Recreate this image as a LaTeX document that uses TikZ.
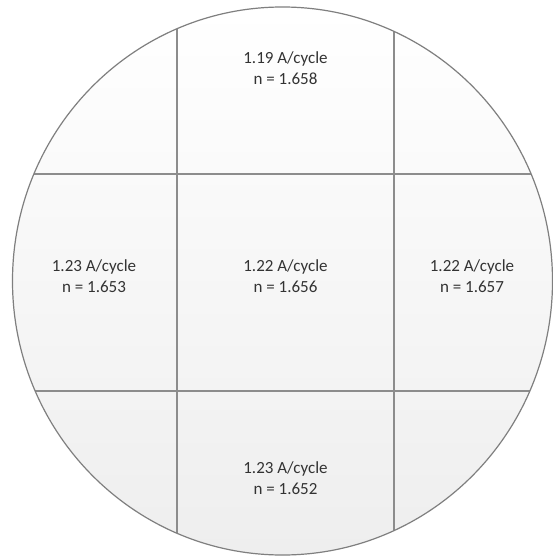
\documentclass[tikz,border=0pt]{standalone}
\usepackage{fontspec}
\setmainfont{Carlito}
\definecolor{edge}{HTML}{7F7F7F}
\definecolor{gridc}{HTML}{8C8C8C}
\definecolor{txt}{HTML}{333333}
\definecolor{fillbot}{HTML}{EEEEEE}
\begin{document}
\begin{tikzpicture}[x=1pt,y=-1pt,
  cell/.style={align=center,text=txt,font=\fontsize{17}{21}\selectfont,inner sep=0pt},
  gridline/.style={draw=gridc,line width=1.2pt}]
\useasboundingbox (0,0) rectangle (553,559);
\fill[white] (0,0) rectangle (553,559);
\shade[top color=white,bottom color=fillbot] (282.5,281) ellipse [x radius=270,y radius=274];
\begin{scope}
  \clip (282.5,281) ellipse [x radius=270,y radius=274];
  \draw[gridline] (177,0) -- (177,559);
  \draw[gridline] (394,0) -- (394,559);
  \draw[gridline] (0,174) -- (553,174);
  \draw[gridline] (0,391) -- (553,391);
\end{scope}
\draw[edge,line width=1.2pt] (282.5,281) ellipse [x radius=270,y radius=274];
\node[cell] (top) at (285.5,68) {1.19 A/cycle\\n = 1.658};
\node[cell] (left) at (94,276) {1.23 A/cycle\\n = 1.653};
\node[cell] (mid) at (285.5,276) {1.22 A/cycle\\n = 1.656};
\node[cell] (right) at (472,276) {1.22 A/cycle\\n = 1.657};
\node[cell] (bot) at (285.5,478) {1.23 A/cycle\\n = 1.652};
\end{tikzpicture}
\end{document}
